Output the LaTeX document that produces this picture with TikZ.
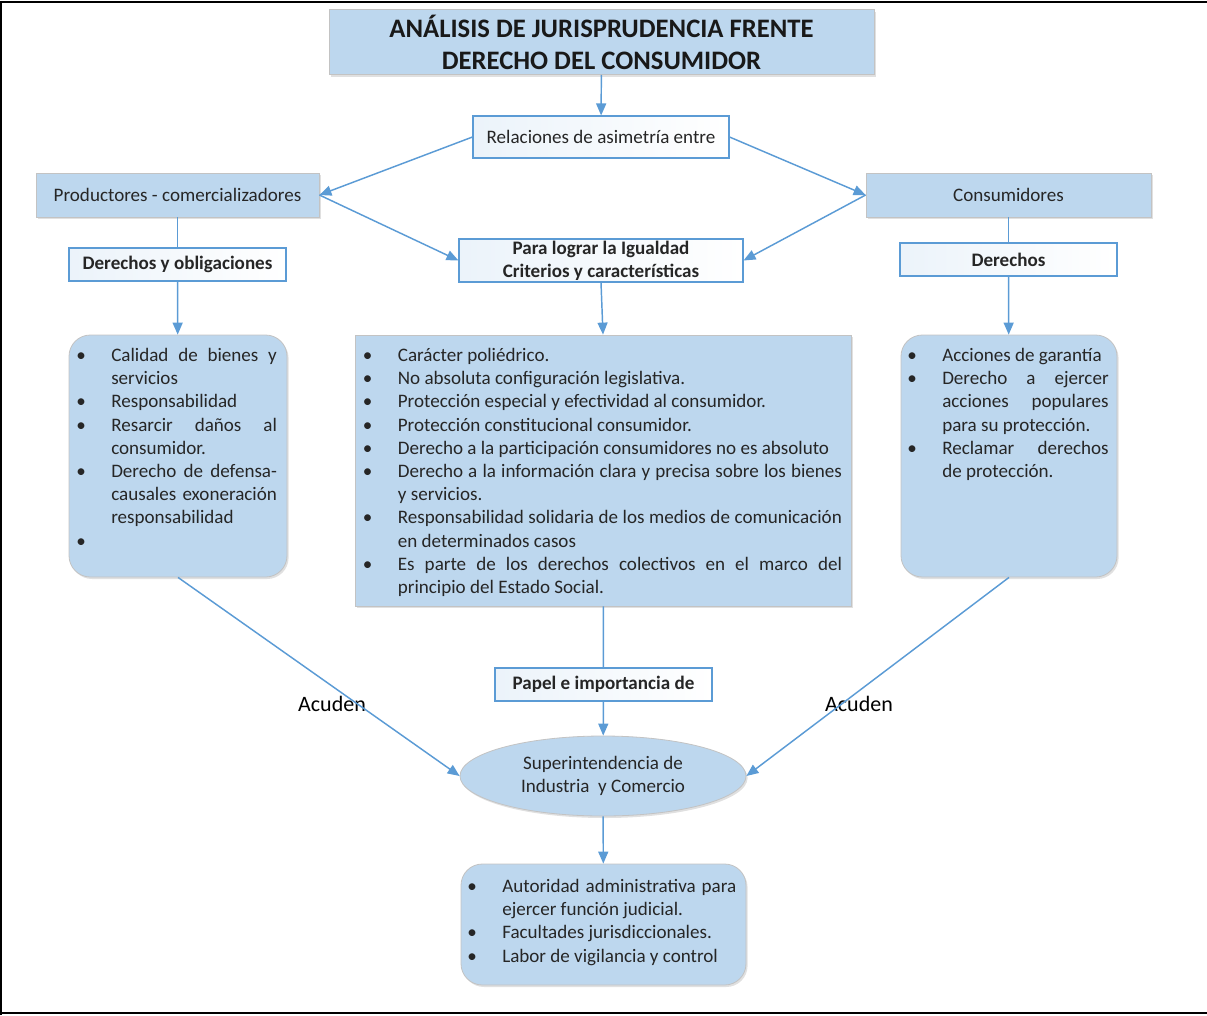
\documentclass[tikz,border=0pt]{standalone}
\usepackage{fontspec}
\setmainfont{Carlito}
\usepackage{tikz}
\usetikzlibrary{arrows.meta,shapes.geometric,shadows}
\definecolor{celeste}{HTML}{BDD7EE}
\definecolor{edge}{HTML}{5B9BD5}
\definecolor{gris}{HTML}{C3C3C3}
\definecolor{ink}{HTML}{262626}
\newcommand\cuerpo{\fontsize{14.3pt}{17.4pt}\selectfont\hyphenpenalty=10000}
\newcommand\titulo{\fontsize{20pt}{24pt}\selectfont\bfseries}
\newcommand\bitem[1]{\par\hangindent=26.25pt\hangafter=1\noindent\makebox[26.25pt][l]{\textbullet}\strut#1}
\tikzset{
  tam/.style 2 args={minimum width=#1*0.75pt, minimum height=#2*0.75pt, inner sep=0pt},
  cajaazul/.style={draw=gris, line width=0.6pt, fill=celeste,
    drop shadow={shadow xshift=1.2pt, shadow yshift=-1.5pt, fill=black, opacity=0.12}},
  cajablanca/.style={draw=edge, line width=0.8pt, left color=edge!12, right color=white},
  lista/.style={cajaazul, rounded corners=16pt},
  texto/.style={text=ink, font=\cuerpo, align=center},
  negrita/.style={text=ink, font=\cuerpo\bfseries, align=center},
  items/.style={text=ink, font=\cuerpo, align=justify, inner sep=0pt, anchor=north west},
  etiqueta/.style={text=black, font=\fontsize{16.5pt}{20pt}\selectfont},
  enlace/.style={draw=edge, line width=1.1pt},
  flecha/.style={enlace, -{Triangle[length=9pt,width=7.5pt]}},
  marco/.style={draw=black, line width=2.2pt},
}
\begin{document}
\begin{tikzpicture}[x=0.75pt,y=-0.75pt]
  \useasboundingbox (0,0) rectangle (1207,1015);
  \draw[marco] (1,1015) -- (1,2) -- (1207,2);
  \draw[marco] (0,1013) -- (1207,1013);

  \node[cajaazul, tam={545}{65}, font=\titulo, text=black!90, align=center] (titulo) at (601.5,42)
    {ANÁLISIS DE JURISPRUDENCIA FRENTE\\DERECHO DEL CONSUMIDOR};
  \node[cajablanca, tam={256}{42}, texto] (rel) at (601,137) {Relaciones de asimetría entre};
  \node[cajaazul, tam={283}{44}, texto] (prod) at (177.5,195) {Productores - comercializadores};
  \node[cajaazul, tam={285}{44}, texto] (cons) at (1008.5,195) {Consumidores};
  \node[cajablanca, tam={284}{43}, negrita] (para) at (601,260.5) {Para lograr la Igualdad\\Criterios y características};
  \node[cajablanca, tam={217}{33}, negrita] (dyo) at (177.5,264.5) {Derechos y obligaciones};
  \node[cajablanca, tam={217}{33}, negrita] (der) at (1008.5,259.5) {Derechos};

  \node[lista, tam={218}{242}] (izq) at (178,456) {};
  \node[items, text width=150.5pt] (izqtxt) at (76,338) {%
    \bitem{Calidad de bienes y servicios}
    \bitem{Responsabilidad}
    \bitem{Resarcir daños al consumidor.}
    \bitem{Derecho de defensa-causales exoneración responsabilidad}
    \bitem{}\par};
  \node[cajaazul, tam={496}{271}] (cen) at (603,470.5) {};
  \node[items, text width=359.3pt] (centxt) at (362.6,338) {%
    \bitem{Carácter poliédrico.}
    \bitem{No absoluta configuración legislativa.}
    \bitem{Protección especial y efectividad al consumidor.}
    \bitem{Protección constitucional consumidor.}
    \bitem{Derecho a la participación consumidores no es absoluto}
    \bitem{Derecho a la información clara y precisa sobre los bienes\linebreak y servicios.}
    \bitem{Responsabilidad solidaria de los medios de comunicación en determinados casos}
    \bitem{Es parte de los derechos colectivos en el marco del principio del Estado Social.}\par};
  \node[lista, tam={216}{242}] (drc) at (1009,456) {};
  \node[items, text width=151pt] (drctxt) at (907,338) {%
    \bitem{Acciones de garantía}
    \bitem{Derecho a ejercer acciones populares para su protección.}
    \bitem{Reclamar derechos de protección.}\par};

  \node[cajablanca, tam={217}{33}, negrita] (papel) at (603.5,684.5) {Papel e importancia de};
  \node[cajaazul, ellipse, tam={286}{80}, texto] (sic) at (603,776) {Superintendencia de\\Industria\ \ y Comercio};
  \node[lista, tam={285}{121}] (final) at (603.5,924.5) {};
  \node[items, text width=201.75pt] (finaltxt) at (467,869) {%
    \bitem{Autoridad administrativa para ejercer función judicial.}
    \bitem{Facultades jurisdiccionales.}
    \bitem{Labor de vigilancia y control}\par};

  \node[etiqueta] (acuizq) at (332,704) {Acuden};
  \node[etiqueta] (acuder) at (859,704) {Acuden};

  \draw[flecha] (titulo) -- (rel);
  \draw[flecha] (rel.west) -- (prod.east);
  \draw[flecha] (rel.east) -- (cons.west);
  \draw[flecha] (prod.east) -- (para.west);
  \draw[flecha] (cons.west) -- (para.east);
  \draw[enlace] (prod) -- (dyo);
  \draw[flecha] (dyo) -- (izq);
  \draw[enlace] (cons) -- (der);
  \draw[flecha] (der) -- (drc);
  \draw[flecha] (para.south) -- (cen.north);
  \draw[enlace] (cen) -- (papel);
  \draw[flecha] (papel) -- (sic);
  \draw[flecha] (izq.south) -- (sic.west);
  \draw[flecha] (drc.south) -- (sic.east);
  \draw[flecha] (sic) -- (final);
\end{tikzpicture}
\end{document}
